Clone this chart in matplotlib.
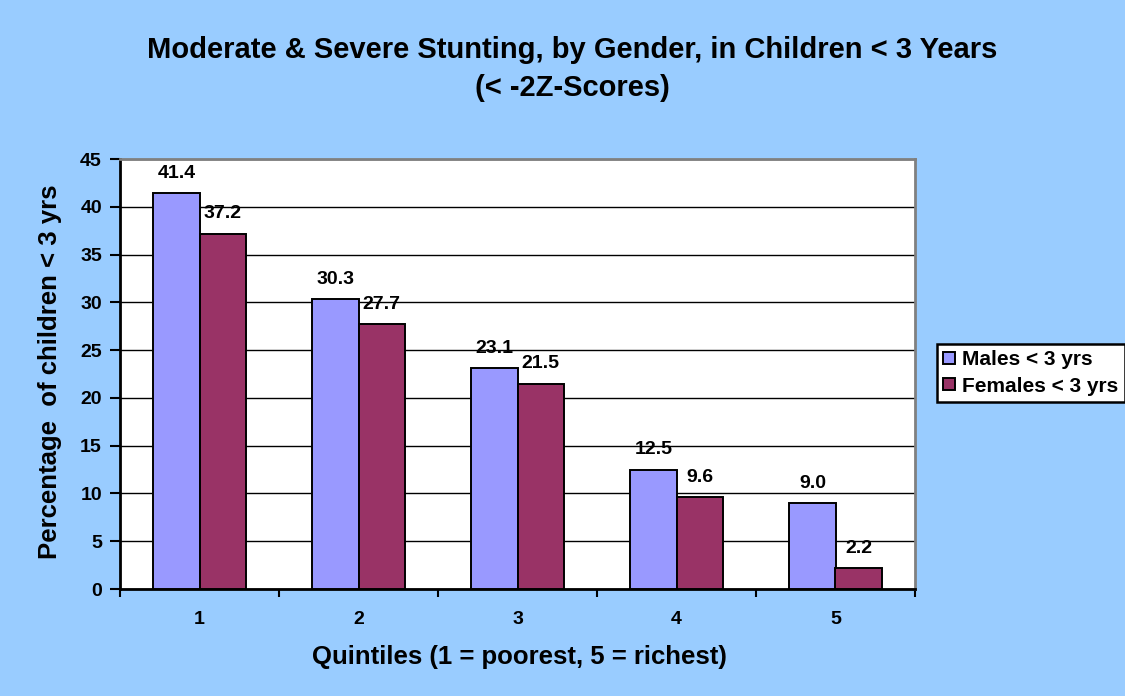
import matplotlib
matplotlib.use("Agg")
import matplotlib.pyplot as plt
import numpy as np

plt.rcParams['font.family'] = ['Liberation Sans', 'DejaVu Sans']

categories = ["1", "2", "3", "4", "5"]
males = [41.4, 30.3, 23.1, 12.5, 9.0]
females = [37.2, 27.7, 21.5, 9.6, 2.2]
series_names = ["Males < 3 yrs", "Females < 3 yrs"]
yticks = [0, 5, 10, 15, 20, 25, 30, 35, 40, 45]

bg = "#99CCFF"
c_m = "#9999FF"
c_f = "#993366"

fig = plt.figure(figsize=(11.25, 6.96), dpi=100, facecolor=bg)
ax = fig.add_axes([120/1125, 1-589/696, 795/1125, 430/696])
ax.set_facecolor("white")

x = np.arange(len(categories))
w = 0.29
b1 = ax.bar(x - w/2, males, w, color=c_m, edgecolor="black", linewidth=1.4, label=series_names[0], zorder=3)
b2 = ax.bar(x + w/2, females, w, color=c_f, edgecolor="black", linewidth=1.4, label=series_names[1], zorder=3)

for xi, v in zip(x - w/2, males):
    ax.text(xi, v + 1.2, f"{v:.1f}", ha="center", va="bottom", fontsize=14, fontweight="bold")
for xi, v in zip(x + w/2, females):
    ax.text(xi, v + 1.2, f"{v:.1f}", ha="center", va="bottom", fontsize=14, fontweight="bold")

ax.set_xlim(-0.5, 4.5)
ax.set_ylim(0, 45)
ax.set_yticks(yticks)
ax.set_yticklabels([str(t) for t in yticks], fontsize=14, fontweight="bold")
ax.yaxis.grid(True, color="black", linewidth=1.0, zorder=0)
ax.set_axisbelow(True)

ax.set_xticks(x)
ax.set_xticklabels(categories, fontsize=14, fontweight="bold")
ax.tick_params(axis="x", length=0, pad=16)
ax.set_xticks(np.arange(-0.5, 5.0, 1.0), minor=True)
ax.tick_params(axis="x", which="minor", length=6, width=1.5, direction="out")
ax.tick_params(axis="y", length=7, width=1.5, direction="out", pad=6)

for s in ["left", "bottom"]:
    ax.spines[s].set_linewidth(2)
    ax.spines[s].set_color("black")
for s in ["top", "right"]:
    ax.spines[s].set_linewidth(2)
    ax.spines[s].set_color("#808080")

fig.text(519/1125, 1-657/696, "Quintiles (1 = poorest, 5 = richest)",
         ha="center", va="center", fontsize=18.5, fontweight="bold")
fig.text(50/1125, 1-372/696, "Percentage  of children < 3 yrs", rotation=90,
         ha="center", va="center", fontsize=18.5, fontweight="bold")

fig.text(572/1125, 1-50/696, "Moderate & Severe Stunting, by Gender, in Children < 3 Years",
         ha="center", va="center", fontsize=21, fontweight="bold")
fig.text(572/1125, 1-88/696, "(< -2Z-Scores)", ha="center", va="center", fontsize=21, fontweight="bold")

leg = fig.legend(handles=[b1, b2], loc="upper left", bbox_to_anchor=(937/1125, 1-344/696),
                 prop={"weight": "bold", "size": 15}, frameon=True, fancybox=False,
                 edgecolor="black", facecolor="white", framealpha=1.0,
                 handlelength=0.55, handleheight=0.55, handletextpad=0.35,
                 borderpad=0.3, labelspacing=0.35, borderaxespad=0)
leg.get_frame().set_linewidth(1.8)

fig.savefig("out.png", dpi=100, facecolor=bg)
